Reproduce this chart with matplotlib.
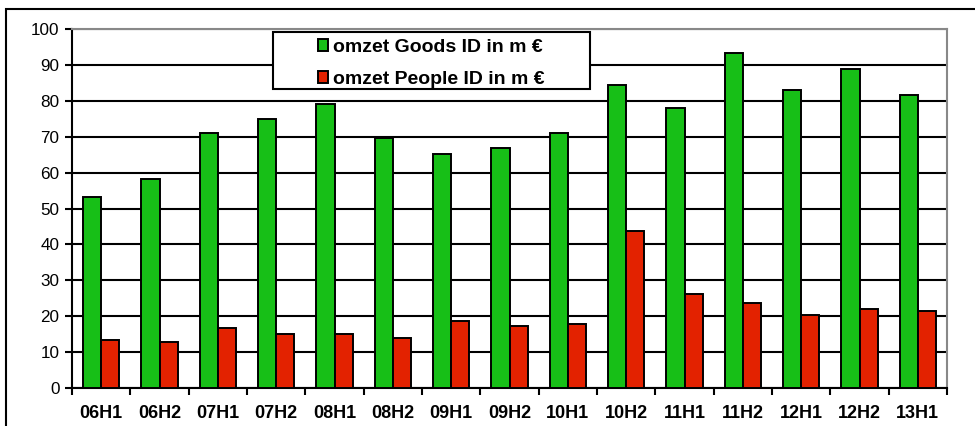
import matplotlib
matplotlib.use("Agg")
import matplotlib.pyplot as plt
from matplotlib.patches import Rectangle
import numpy as np

categories = ["06H1", "06H2", "07H1", "07H2", "08H1", "08H2", "09H1", "09H2",
              "10H1", "10H2", "11H1", "11H2", "12H1", "12H2", "13H1"]
goods = [53.2, 58.1, 71.0, 74.8, 79.1, 69.6, 65.1, 66.8, 71.0, 84.5, 78.0, 93.2, 82.9, 88.9, 81.7]
people = [13.4, 12.9, 16.6, 15.0, 15.0, 13.9, 18.7, 17.2, 17.7, 43.6, 26.3, 23.7, 20.4, 22.0, 21.4]
labels = ["omzet Goods ID in m €", "omzet People ID in m €"]
yticks = [0, 10, 20, 30, 40, 50, 60, 70, 80, 90, 100]

plt.rcParams['font.family'] = ['Liberation Sans', 'DejaVu Sans']

fig = plt.figure(figsize=(9.75, 4.26), dpi=100)
ax = fig.add_axes([72/975, 1-388/426, 875/975, 359/426])

x = np.arange(len(categories))
w = 0.31
ax.bar(x - w/2, goods, w, color='#17BF17', edgecolor='black', linewidth=1.4, zorder=3, label=labels[0])
ax.bar(x + w/2, people, w, color='#E32200', edgecolor='black', linewidth=1.4, zorder=3, label=labels[1])

ax.set_xlim(-0.5, len(categories) - 0.5)
ax.set_ylim(0, 100)
ax.set_yticks(yticks)
ax.set_yticklabels([str(v) for v in yticks], fontsize=12.3)
ax.yaxis.grid(True, color='black', linewidth=1.5, zorder=1)
ax.set_axisbelow(True)

ax.set_xticks(x)
ax.set_xticklabels(categories, fontsize=13, fontweight='bold')
ax.set_xticks(np.arange(-0.5, len(categories), 1), minor=True)
ax.tick_params(axis='x', which='major', length=0, pad=12)
ax.tick_params(axis='x', which='minor', length=5, width=1.5, color='black', direction='out')
ax.tick_params(axis='y', length=5, width=1.5, direction='out', pad=4)

for s in ['top', 'right']:
    ax.spines[s].set_color('#888888')
    ax.spines[s].set_linewidth(1.5)
for s in ['left', 'bottom']:
    ax.spines[s].set_color('black')
    ax.spines[s].set_linewidth(1.5)

# legend box
x0 = (272.7 - 72) / 875
x1 = (590 - 72) / 875
y1 = (388 - 31.7) / 359
y0 = (388 - 89) / 359
ax.add_patch(Rectangle((x0, y0), x1 - x0, y1 - y0, transform=ax.transAxes,
                       facecolor='white', edgecolor='black', linewidth=1.5, zorder=6, clip_on=False))
dy = 3 / 359
leg = ax.legend(loc='center', bbox_to_anchor=(x0, y0 - dy, x1 - x0, y1 - y0), frameon=False,
                prop={'weight': 'bold', 'size': 14}, handlelength=0.55, handleheight=0.55,
                handletextpad=0.25, labelspacing=0.75, borderpad=0.1)
leg.set_zorder(7)

# outer frame
fig.patches.append(Rectangle((6/975, -0.1), 1.1, 1.1 - 9/426 + 0.0, transform=fig.transFigure,
                             facecolor='none', edgecolor='black', linewidth=1.5))

fig.savefig("out.png", dpi=100)
